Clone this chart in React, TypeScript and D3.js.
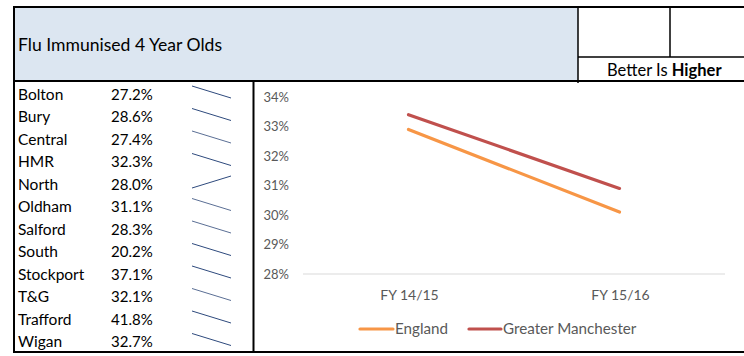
import React from "react";
import * as d3 from "d3";

const areas = ["Bolton", "Bury", "Central", "HMR", "North", "Oldham", "Salford", "South", "Stockport", "T&G", "Trafford", "Wigan"];
const prevValues = [31.5, 33.0, 32.0, 35.1, 25.9, 34.0, 32.5, 24.8, 40.3, 35.6, 45.2, 36.4];
const currentValues = [27.2, 28.6, 27.4, 32.3, 28.0, 31.1, 28.3, 20.2, 37.1, 32.1, 41.8, 32.7];
const sparkColors = ["#2e4a7d", "#2e4a7d", "#5b6f95", "#2e4a7d", "#2e4a7d", "#5b6f95", "#5b6f95", "#2e4a7d", "#2e4a7d", "#5b6f95", "#2e4a7d", "#2e4a7d"];

const periods = ["FY 14/15", "FY 15/16"];
const englandValues = [32.9, 30.1];
const gmValues = [33.4, 30.9];
const yTicks = [28, 29, 30, 31, 32, 33, 34];

const seriesNames = ["England", "Greater Manchester"];
const seriesColors = ["#f79646", "#c0504d"];

const FONT = "Lato, 'Open Sans', sans-serif";

export default function App() {
  const W = 744, H = 356;
  const rowTop = 82, rowBottom = 352;
  const rowScale = d3.scaleBand<string>().domain(areas).range([rowTop, rowBottom]);

  const x = d3.scalePoint<string>().domain(periods).range([303, 725]).padding(0.5);
  const y = d3.scaleLinear().domain([28, 34]).range([274, 97]);
  const line = d3.line<[string, number]>().x(d => x(d[0]) as number).y(d => y(d[1]));

  const seriesData = [englandValues, gmValues];

  return (
    <svg width={W} height={H} style={{ position: "absolute", left: 0, top: 0, display: "block" }} fontFamily={FONT}>
      <rect x={0} y={0} width={W} height={H} fill="#fff" />
      {/* title band */}
      <rect x={14} y={7} width={564} height={74} fill="#dce6f1" />
      <text x={18} y={50.5} fontSize={17} fill="#000" textLength={204} lengthAdjust="spacingAndGlyphs">Flu Immunised 4 Year Olds</text>

      {/* right boxes */}
      <line x1={578} y1={7} x2={578} y2={83} stroke="#000" strokeWidth={1.5} />
      <line x1={670} y1={7} x2={670} y2={57} stroke="#000" strokeWidth={1.5} />
      <line x1={578} y1={57} x2={W} y2={57} stroke="#000" strokeWidth={1.5} />
      <text x={607} y={75.5} fontSize={16.5} fill="#000">
        Better Is <tspan fontWeight="bold">Higher</tspan>
      </text>

      {/* borders */}
      <line x1={14} y1={7} x2={W} y2={7} stroke="#000" strokeWidth={2} />
      <line x1={14} y1={81} x2={W} y2={81} stroke="#000" strokeWidth={2} />
      <line x1={14} y1={352} x2={W} y2={352} stroke="#000" strokeWidth={2} />
      <line x1={14} y1={6} x2={14} y2={353} stroke="#000" strokeWidth={2} />
      <line x1={253.5} y1={81} x2={253.5} y2={353} stroke="#000" strokeWidth={2} />

      {/* rows */}
      {areas.map((a, i) => {
        const top = rowScale(a) as number;
        const cy = top + rowScale.bandwidth() / 2;
        const vals = [prevValues[i], currentValues[i]];
        const sx = d3.scaleLinear().domain([0, 1]).range([192, 231]);
        const sy = d3.scaleLinear().domain(d3.extent(vals) as [number, number]).range([top + 16, top + 4]);
        const spark = d3.line<number>().x((_, j) => sx(j)).y(d => sy(d));
        return (
          <g key={a}>
            <text x={18} y={cy + 6.5} fontSize={15.5} fill="#000">{a}</text>
            <text x={111} y={cy + 6.5} fontSize={15} fill="#000">{currentValues[i].toFixed(1)}%</text>
            <path d={spark(vals) || ""} fill="none" stroke={sparkColors[i]} strokeWidth={1} />
          </g>
        );
      })}

      {/* chart */}
      <line x1={303} y1={y(28)} x2={725} y2={y(28)} stroke="#d9d9d9" strokeWidth={1} />
      {yTicks.map(t => (
        <text key={t} x={289} y={y(t) + 4.5} fontSize={13} fill="#595959" textAnchor="end">{t}%</text>
      ))}
      {periods.map(p => (
        <text key={p} x={(x(p) as number) + 1} y={300} fontSize={14} fill="#595959" textAnchor="middle">{p}</text>
      ))}
      {seriesData.map((vals, si) => (
        <path key={si} d={line(periods.map((p, j) => [p, vals[j]] as [string, number])) || ""} fill="none"
          stroke={seriesColors[si]} strokeWidth={3.2} strokeLinecap="round" />
      ))}

      {/* legend */}
      <line x1={360} y1={329} x2={393} y2={329} stroke={seriesColors[0]} strokeWidth={3.2} strokeLinecap="round" />
      <text x={395} y={334} fontSize={15.2} fill="#595959">{seriesNames[0]}</text>
      <line x1={469} y1={329} x2={501} y2={329} stroke={seriesColors[1]} strokeWidth={3.2} strokeLinecap="round" />
      <text x={503} y={334} fontSize={15.2} fill="#595959">{seriesNames[1]}</text>
    </svg>
  );
}
